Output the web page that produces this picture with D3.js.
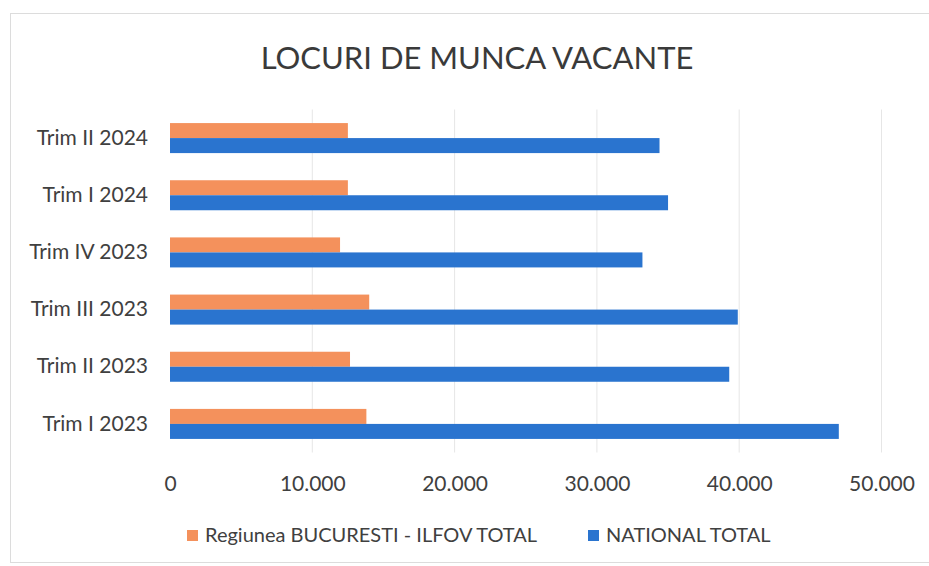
<!DOCTYPE html>
<meta charset="utf-8">
<style>
  body { margin: 0; background: #fff; }
  svg { display: block; font-family: Lato, "Open Sans", sans-serif; }
</style>
<svg width="929" height="566"></svg>
<script src="https://d3js.org/d3.v7.min.js"></script>
<script>

var categories = ["Trim I 2023", "Trim II 2023", "Trim III 2023", "Trim IV 2023", "Trim I 2024", "Trim II 2024"];
var bucuresti = [13800, 12650, 14000, 11950, 12500, 12500];
var national = [47000, 39300, 39900, 33200, 35000, 34400];
var seriesNames = ["Regiunea BUCURESTI - ILFOV TOTAL", "NATIONAL TOTAL"];
var seriesColors = ["#F4915C", "#2A74CF"];
var xTicks = [0, 10000, 20000, 30000, 40000, 50000];

var svg = d3.select("svg"),
    plotLeft = 170, plotRight = 881.5, plotTop = 109.5, plotBottom = 452.5;

// chart frame (faint, like the scanned page)
svg.append("rect")
    .attr("x", 10.5).attr("y", 13.5)
    .attr("width", 940).attr("height", 549)
    .attr("fill", "none")
    .attr("stroke", "#dcdcdc");

svg.append("text")
    .attr("x", 477).attr("y", 69)
    .attr("text-anchor", "middle")
    .attr("font-size", 31)
    .attr("fill", "#3a3a3a")
    .text("LOCURI DE MUNCA VACANTE");

var x = d3.scaleLinear().domain([0, 50000]).range([plotLeft, plotRight]);

var y = d3.scaleBand()
    .domain(categories.slice().reverse())
    .range([plotTop, plotBottom])
    .paddingInner(0.475)
    .paddingOuter(0.2375);

var y1 = d3.scaleBand().domain([0, 1]).range([0, y.bandwidth()]);

// gridlines
svg.append("g")
    .selectAll("line")
    .data(xTicks.slice(1))
    .join("line")
    .attr("x1", function(d) { return x(d); })
    .attr("x2", function(d) { return x(d); })
    .attr("y1", plotTop)
    .attr("y2", plotBottom)
    .attr("stroke", "#e6e6e6")
    .attr("stroke-width", 1);

var rows = categories.map(function(c, i) {
  return { cat: c, values: [bucuresti[i], national[i]] };
});

var group = svg.append("g")
    .selectAll("g")
    .data(rows)
    .join("g")
    .attr("transform", function(d) { return "translate(0," + y(d.cat) + ")"; });

group.selectAll("rect")
    .data(function(d) { return d.values.map(function(v, k) { return { k: k, v: v }; }); })
    .join("rect")
    .attr("x", x(0))
    .attr("y", function(d) { return y1(d.k); })
    .attr("width", function(d) { return x(d.v) - x(0); })
    .attr("height", y1.bandwidth())
    .attr("fill", function(d) { return seriesColors[d.k]; });

// x axis labels
var xAxis = svg.append("g")
    .attr("transform", "translate(0," + (plotBottom + 21) + ")")
    .call(d3.axisBottom(x).tickValues(xTicks).tickSize(0)
      .tickFormat(function(d) { return d === 0 ? "0" : d3.format(",")(d).replace(/,/g, "."); }));
xAxis.select(".domain").remove();
xAxis.selectAll("text")
    .attr("font-family", "Lato, 'Open Sans', sans-serif")
    .attr("font-size", 21)
    .attr("fill", "#404040");

// y axis labels
var yAxis = svg.append("g")
    .attr("transform", "translate(" + (plotLeft - 19) + ",0)")
    .call(d3.axisLeft(y).tickSize(0));
yAxis.select(".domain").remove();
yAxis.selectAll("text")
    .attr("font-family", "Lato, 'Open Sans', sans-serif")
    .attr("font-size", 21)
    .attr("fill", "#404040");

// legend
var legendX = [187, 588];
var legend = svg.append("g")
    .selectAll("g")
    .data(seriesNames)
    .join("g")
    .attr("transform", function(d, i) { return "translate(" + legendX[i] + ",535)"; });
legend.append("rect")
    .attr("x", 0).attr("y", -5)
    .attr("width", 11).attr("height", 11)
    .attr("fill", function(d, i) { return seriesColors[i]; });
legend.append("text")
    .attr("x", 18).attr("y", 7)
    .attr("font-size", 20)
    .attr("fill", "#404040")
    .text(function(d) { return d; });

</script>
